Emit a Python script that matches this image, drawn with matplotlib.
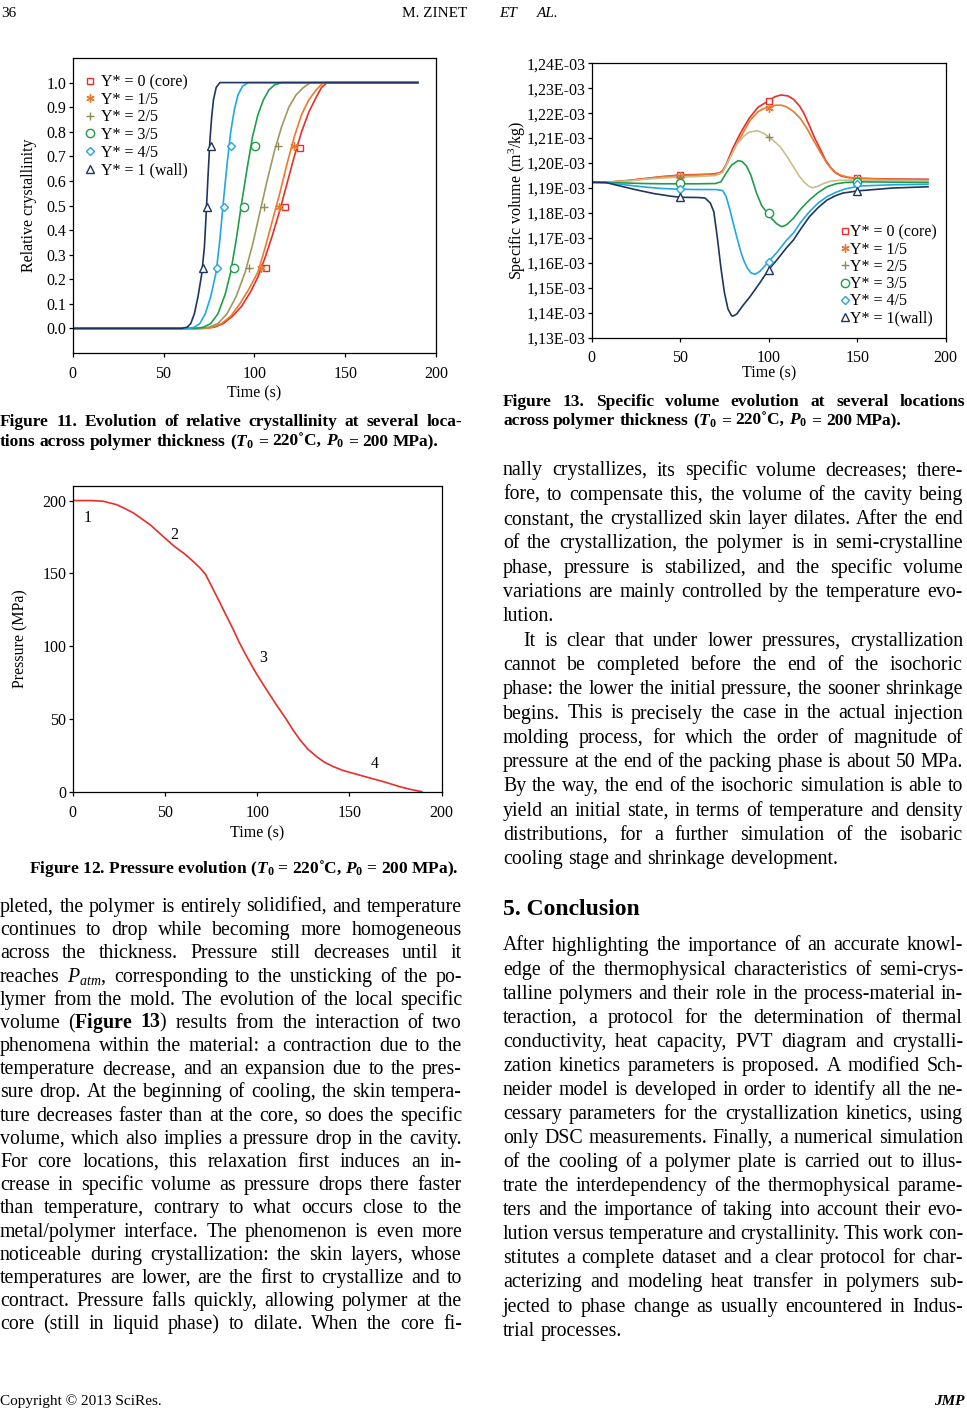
import numpy as np
import matplotlib
matplotlib.use('Agg')
import matplotlib.pyplot as plt

W, H = 967, 1414
SERIF = ['Liberation Serif', 'DejaVu Serif']
plt.rcParams['font.family'] = SERIF
plt.rcParams['mathtext.fontset'] = 'custom'
plt.rcParams['mathtext.rm'] = 'Liberation Serif'
plt.rcParams['mathtext.it'] = 'Liberation Serif:italic'
plt.rcParams['mathtext.bf'] = 'Liberation Serif:bold'
plt.rcParams['mathtext.bfit'] = 'Liberation Serif:bold:italic'

# ---------------- data: Figure 11, relative crystallinity (time s, X) ----------------
cr_core = [(0, 0), (72, 0), (78, 0.005), (83, 0.02), (88, 0.05), (93, 0.09), (98, 0.15), (102, 0.21),
           (106, 0.29), (110, 0.38), (114, 0.48), (118, 0.59), (122, 0.70), (126, 0.80), (130, 0.88),
           (134, 0.94), (137, 0.98), (140, 1.0), (190, 1.0)]
cr_15 = [(0, 0), (72, 0), (77, 0.005), (82, 0.02), (87, 0.05), (92, 0.10), (97, 0.16), (102, 0.23),
         (106, 0.33), (110, 0.44), (114, 0.55), (118, 0.67), (122, 0.78), (126, 0.87), (130, 0.93),
         (134, 0.97), (138, 1.0), (190, 1.0)]
cr_25 = [(0, 0), (70, 0), (75, 0.005), (80, 0.02), (85, 0.06), (90, 0.13), (95, 0.23), (99, 0.34),
         (103, 0.47), (107, 0.60), (111, 0.72), (115, 0.82), (119, 0.90), (123, 0.95), (127, 0.98),
         (131, 1.0), (190, 1.0)]
cr_35 = [(0, 0), (68, 0), (72, 0.005), (76, 0.02), (80, 0.06), (84, 0.14), (87, 0.23), (90, 0.36),
         (93, 0.51), (96, 0.65), (99, 0.78), (102, 0.87), (105, 0.93), (108, 0.97), (111, 0.99),
         (115, 1.0), (190, 1.0)]
cr_45 = [(0, 0), (64, 0), (67, 0.005), (70, 0.02), (73, 0.06), (76, 0.13), (79, 0.23), (81, 0.36),
         (83, 0.52), (85, 0.67), (87, 0.80), (89, 0.89), (91, 0.95), (93.5, 0.985), (96.5, 1.0), (190, 1.0)]
cr_wall = [(0, 0), (60, 0), (63, 0.005), (65, 0.02), (67, 0.06), (69, 0.13), (71, 0.22), (72.5, 0.33),
           (73.5, 0.47), (74.5, 0.62), (75.5, 0.76), (76.5, 0.86), (77.5, 0.93), (79, 0.98), (81, 1.0),
           (190, 1.0)]
cr_series = [cr_core, cr_15, cr_25, cr_35, cr_45, cr_wall]

# marker symbols placed along the curves
cr_mark_t = [[106.2, 116.8, 125.3], [103.8, 113.3, 122.1], [97.1, 105.4, 112.9],
             [88.9, 94.4, 100.1], [79.7, 83.5, 87.0], [71.6, 73.8, 76.0]]
cr_mark_y = [[0.244, 0.495, 0.733], [0.244, 0.495, 0.743], [0.244, 0.495, 0.743],
             [0.244, 0.495, 0.743], [0.244, 0.495, 0.743], [0.244, 0.495, 0.743]]
cr_labels = ['Y* = 0 (core)', 'Y* = 1/5', 'Y* = 2/5', 'Y* = 3/5', 'Y* = 4/5', 'Y* = 1 (wall)']

# ---------------- data: Figure 12, pressure (time s, MPa) ----------------
pr_t = [0, 10, 16.6, 23.8, 28, 32.9, 37, 41.9, 46, 50.9, 55, 60, 64.5, 69, 72, 74.4, 77, 79.9, 83.5,
        87.1, 90.5, 94.3, 99.5, 105.1, 110.5, 116, 119.5, 123.2, 127.5, 132.2, 136.5, 141.3, 146.5,
        152.1, 160, 168.4, 177.4, 183, 189.2]
pr_p = [200, 200, 199.5, 197.2, 194.7, 191.5, 187.8, 183.5, 178.8, 173.2, 168.6, 164, 159.1, 153.7,
        149.3, 143.3, 136.8, 129.6, 120.3, 111.2, 102.0, 92.9, 81.2, 70, 59.5, 49.3, 42.2, 35.6, 29.2,
        24.1, 20.2, 17.2, 14.6, 12.6, 9.8, 6.9, 3.4, 1.6, 0]
pr_notes = ['1', '2', '3', '4']
pr_note_t = [8.1, 55, 103.3, 163.5]
pr_note_p = [188, 176.6, 91.7, 19]

# ---------------- data: Figure 13, specific volume (time s, 1e-3 m3/kg) ----------------
sv_core = [(0, 1.1923), (10, 1.1924), (20, 1.1930), (30, 1.1938), (40, 1.1946), (50, 1.1952), (60, 1.1954),
           (68, 1.1956), (72, 1.1960), (74, 1.1970), (76, 1.1995), (78, 1.2030), (80, 1.2063), (84, 1.2120),
           (89, 1.2180), (94, 1.2224), (100, 1.2250), (103.5, 1.2266), (107, 1.2273), (111, 1.2269),
           (114, 1.2256), (117.5, 1.2228), (120, 1.2198), (123, 1.2150), (126, 1.2100), (129, 1.2058),
           (132, 1.2013), (135, 1.1982), (138, 1.1960), (141, 1.1948), (145, 1.1942), (150, 1.1939),
           (170, 1.1936), (190, 1.1935)]
sv_15 = [(0, 1.1923), (10, 1.1924), (20, 1.1929), (30, 1.1937), (40, 1.1945), (50, 1.1950), (60, 1.1952),
         (70, 1.1955), (74, 1.1966), (77, 1.2005), (80, 1.2050), (85, 1.2115), (89.5, 1.2172), (94, 1.2206),
         (97, 1.2218), (100, 1.2224), (104, 1.2232), (107, 1.2232), (110, 1.2226), (114, 1.2207),
         (118, 1.2178), (121.5, 1.2140), (125, 1.2095), (129, 1.2045), (133, 1.1998), (137, 1.1965),
         (140.5, 1.1952), (145, 1.1943), (151, 1.1939), (170, 1.1934), (190, 1.1932)]
sv_25 = [(0, 1.1923), (10, 1.1924), (20, 1.1928), (30, 1.1935), (40, 1.1940), (50, 1.1944), (60, 1.1946),
         (70, 1.1950), (74, 1.1962), (78, 1.2020), (82, 1.2075), (86, 1.2108), (89, 1.2124), (93.5, 1.2130),
         (97, 1.2120), (100, 1.2105), (103, 1.2088), (106.5, 1.2066), (110, 1.2030), (114, 1.1985),
         (117, 1.1950), (120, 1.1924), (122.5, 1.1908), (124.5, 1.1901), (127, 1.1905), (131, 1.1918),
         (135, 1.1927), (140, 1.1931), (151, 1.1932), (190, 1.1928)]
sv_35 = [(0, 1.1923), (10, 1.1922), (20, 1.1920), (30, 1.1918), (40, 1.1917), (50, 1.1917), (60, 1.1917),
         (70, 1.1918), (73, 1.1925), (76, 1.1960), (79, 1.1992), (82.8, 1.2010), (85, 1.2006), (87.5, 1.1988),
         (90, 1.1950), (93, 1.1882), (96, 1.1830), (99.5, 1.1797), (102, 1.1775), (104.5, 1.1757),
         (107.3, 1.1745), (110, 1.1752), (114, 1.1779), (118, 1.1815), (123, 1.1852), (128, 1.1882),
         (133, 1.1905), (138, 1.1917), (143, 1.1922), (151, 1.1925), (190, 1.1922)]
sv_45 = [(0, 1.1923), (10, 1.1920), (20, 1.1912), (30, 1.1904), (40, 1.1898), (50, 1.1895), (60, 1.1894),
         (70, 1.1894), (74, 1.1890), (76, 1.1865), (78, 1.1815), (80, 1.1758), (82, 1.1703), (84, 1.1650),
         (86, 1.1608), (88, 1.1578), (90, 1.1560), (92.3, 1.1554), (95, 1.1566), (100, 1.1605), (105, 1.1645),
         (110, 1.1690), (114, 1.1720), (118, 1.1762), (123, 1.1805), (128, 1.1840), (133, 1.1866),
         (138, 1.1883), (143, 1.1896), (151, 1.1908), (170, 1.1913), (190, 1.1915)]
sv_wall = [(0, 1.1923), (8, 1.1922), (15, 1.1910), (25, 1.1893), (35, 1.1878), (45, 1.1867), (50, 1.1863),
           (60, 1.1862), (64, 1.1860), (67, 1.1840), (69, 1.1805), (71, 1.1700), (73, 1.1580), (75, 1.1480),
           (77, 1.1415), (79, 1.1388), (80, 1.1387), (82, 1.1395), (85, 1.1425), (89.4, 1.1464), (95, 1.1520),
           (100, 1.1573), (105, 1.1615), (110, 1.1660), (114, 1.1692), (118.5, 1.1740), (123, 1.1785),
           (128, 1.1822), (133, 1.1852), (138, 1.1870), (142, 1.1880), (151, 1.1889), (170, 1.1900),
           (190, 1.1905)]
sv_series = [sv_core, sv_15, sv_25, sv_35, sv_45, sv_wall]
sv_mark_t = [50, 100, 150]
sv_mark_v = [[1.1952, 1.2250, 1.1939], [1.1950, 1.2222, 1.1938], [1.1945, 1.2106, 1.1933],
             [1.1920, 1.1798, 1.1925], [1.1895, 1.1605, 1.1915], [1.1863, 1.1573, 1.1890]]
sv_labels = ['Y* = 0 (core)', 'Y* = 1/5', 'Y* = 2/5', 'Y* = 3/5', 'Y* = 4/5', 'Y* = 1(wall)']
sv_ticks = [1.13, 1.14, 1.15, 1.16, 1.17, 1.18, 1.19, 1.20, 1.21, 1.22, 1.23, 1.24]

# styles
line_cols = ['#e62e2a', '#eb7a2e', '#9c9a5e', '#1f9e4a', '#22a8e0', '#1f365f']
line_cols13 = ['#e62e2a', '#eb7a2e', '#c6c08e', '#1f9e4a', '#22a8e0', '#1f365f']
mark_cols = ['#e62e2a', '#eb7a2e', '#8e8c52', '#1f9e4a', '#22a8e0', '#1f365f']
marks = ['s', (6, 2, 0), '+', 'o', 'D', '^']
msizes = [5, 6, 6, 6, 4, 5.5]

# ---------------- text ----------------
left_lines = [
    "pleted, the polymer is entirely solidified, and temperature",
    "continues to drop while becoming more homogeneous",
    "across the thickness. Pressure still decreases until it",
    "reaches $P_{atm}$, corresponding to the unsticking of the po-",
    "lymer from the mold. The evolution of the local specific",
    r"volume ($\mathbf{Figure}$ $\mathbf{13}$) results from the interaction of two",
    "phenomena within the material: a contraction due to the",
    "temperature decrease, and an expansion due to the pres-",
    "sure drop. At the beginning of cooling, the skin tempera-",
    "ture decreases faster than at the core, so does the specific",
    "volume, which also implies a pressure drop in the cavity.",
    "For core locations, this relaxation first induces an in-",
    "crease in specific volume as pressure drops there faster",
    "than temperature, contrary to what occurs close to the",
    "metal/polymer interface. The phenomenon is even more",
    "noticeable during crystallization: the skin layers, whose",
    "temperatures are lower, are the first to crystallize and to",
    "contract. Pressure falls quickly, allowing polymer at the",
    "core (still in liquid phase) to dilate. When the core fi-",
]
right_par1 = [
    "nally crystallizes, its specific volume decreases; there-",
    "fore, to compensate this, the volume of the cavity being",
    "constant, the crystallized skin layer dilates. After the end",
    "of the crystallization, the polymer is in semi-crystalline",
    "phase, pressure is stabilized, and the specific volume",
    "variations are mainly controlled by the temperature evo-",
    "lution.",
]
right_par2 = [
    "It is clear that under lower pressures, crystallization",
    "cannot be completed before the end of the isochoric",
    "phase: the lower the initial pressure, the sooner shrinkage",
    "begins. This is precisely the case in the actual injection",
    "molding process, for which the order of magnitude of",
    "pressure at the end of the packing phase is about 50 MPa.",
    "By the way, the end of the isochoric simulation is able to",
    "yield an initial state, in terms of temperature and density",
    "distributions, for a further simulation of the isobaric",
    "cooling stage and shrinkage development.",
]
concl_lines = [
    "After highlighting the importance of an accurate knowl-",
    "edge of the thermophysical characteristics of semi-crys-",
    "talline polymers and their role in the process-material in-",
    "teraction, a protocol for the determination of thermal",
    "conductivity, heat capacity, PVT diagram and crystalli-",
    "zation kinetics parameters is proposed. A modified Sch-",
    "neider model is developed in order to identify all the ne-",
    "cessary parameters for the crystallization kinetics, using",
    "only DSC measurements. Finally, a numerical simulation",
    "of the cooling of a polymer plate is carried out to illus-",
    "trate the interdependency of the thermophysical parame-",
    "ters and the importance of taking into account their evo-",
    "lution versus temperature and crystallinity. This work con-",
    "stitutes a complete dataset and a clear protocol for char-",
    "acterizing and modeling heat transfer in polymers sub-",
    "jected to phase change as usually encountered in Indus-",
    "trial processes.",
]
cond = r"($\mathbfit{T}_{\mathbf{0}}$ = 220˚C, $\mathbfit{P}_{\mathbf{0}}$ = 200 MPa)."
cap11 = ["Figure 11. Evolution of relative crystallinity at several loca-",
         "tions across polymer thickness " + cond]
cap12 = "Figure 12. Pressure evolution " + cond
cap13 = ["Figure 13. Specific volume evolution at several locations",
         "across polymer thickness " + cond]

fig = plt.figure(figsize=(W / 100, H / 100), dpi=100)
renderer = fig.canvas.get_renderer()
FS = 11.5


def rect(l, r, t, b):
    return [l / W, 1 - b / H, (r - l) / W, (b - t) / H]


def put_line(s, x0, x1, yb, size, justify=True, weight='normal'):
    words = s.split(' ')
    objs = [fig.text(0, 0, w, fontsize=size, fontweight=weight, va='baseline', ha='left')
            for w in words]
    ws = [o.get_window_extent(renderer).width for o in objs]
    gap = size * 100 / 72 * 0.25
    if justify and len(words) > 1:
        gap = (x1 - x0 - sum(ws)) / (len(words) - 1)
    x = x0
    for o, w in zip(objs, ws):
        o.set_position((x / W, 1 - yb / H))
        x += w + gap
    return x - gap


def style_axes(ax):
    for sp in ax.spines.values():
        sp.set_linewidth(0.9)
    ax.tick_params(direction='out', length=3, width=0.9, labelsize=FS)
    ax.tick_params(axis='x', pad=6.5)
    ax.tick_params(axis='y', pad=1.5)


# ---- Figure 11 ----
ax1 = fig.add_axes(rect(72.7, 436, 58, 353))
for pts, col in zip(cr_series, line_cols):
    t, x = np.array(pts).T
    ax1.plot(t, x, color=col, lw=1.2)
for i in range(6):
    ax1.plot(cr_mark_t[i], cr_mark_y[i], ls='none', marker=marks[i], ms=msizes[i],
             mfc='white', mec=mark_cols[i], mew=1.0, label=cr_labels[i])
ax1.set_xlim(0, 200)
ax1.set_ylim(-0.1, 1.1)
ax1.set_xticks([0, 50, 100, 150, 200])
ax1.set_yticks(np.arange(0, 1.01, 0.1))
ax1.yaxis.set_major_formatter(matplotlib.ticker.FormatStrFormatter('%.1f'))
style_axes(ax1)
ax1.set_xlabel('Time (s)', fontsize=FS, labelpad=2.5)
ax1.set_ylabel('Relative crystallinity', fontsize=FS, labelpad=7)
ax1.legend(loc='upper left', bbox_to_anchor=(0.03, 0.945), frameon=False, fontsize=FS,
           handlelength=0.8, handletextpad=0.3, labelspacing=0.1, borderpad=0, borderaxespad=0)

# ---- Figure 12 ----
ax2 = fig.add_axes(rect(72.7, 441.7, 486, 791.7))
ax2.plot(pr_t, pr_p, color='#e62e2a', lw=1.2)
for s, t, p in zip(pr_notes, pr_note_t, pr_note_p):
    ax2.text(t, p, s, fontsize=FS, ha='center', va='center')
ax2.set_xlim(0, 200)
ax2.set_ylim(0, 210)
ax2.set_xticks([0, 50, 100, 150, 200])
ax2.set_yticks([0, 50, 100, 150, 200])
style_axes(ax2)
ax2.set_xlabel('Time (s)', fontsize=FS, labelpad=3)
ax2.set_ylabel('Pressure (MPa)', fontsize=FS, labelpad=10)

# ---- Figure 13 ----
ax3 = fig.add_axes(rect(591.7, 945.7, 63.3, 337.7))
for pts, col in zip(sv_series, line_cols13):
    t, v = np.array(pts).T
    ax3.plot(t, v * 1e-3, color=col, lw=1.2)
for i in range(6):
    ax3.plot(sv_mark_t, np.array(sv_mark_v[i]) * 1e-3, ls='none', marker=marks[i], ms=msizes[i],
             mfc='white', mec=mark_cols[i], mew=1.0, label=sv_labels[i])
ax3.set_xlim(0, 200)
ax3.set_ylim(1.13e-3, 1.24e-3)
ax3.set_xticks([0, 50, 100, 150, 200])
ax3.set_yticks([v * 1e-3 for v in sv_ticks])
ax3.set_yticklabels([('%.2f' % v).replace('.', ',') + 'E-03' for v in sv_ticks])
style_axes(ax3)
ax3.tick_params(axis='x', pad=5.5)
ax3.set_xlabel('Time (s)', fontsize=FS, labelpad=0)
ax3.set_ylabel('Specific volume (m$^3$/kg)', fontsize=FS, labelpad=-1)
ax3.legend(loc='lower right', bbox_to_anchor=(0.975, 0.04), frameon=False, fontsize=FS,
           handlelength=0.5, handletextpad=0.1, labelspacing=0.08, borderpad=0, borderaxespad=0)

# ---- page text ----
fig.text(1 / W, 1 - 17 / H, '36', fontsize=11, va='baseline', ha='left')
fig.text(402 / W, 1 - 17 / H, 'M. ZINET', fontsize=11, va='baseline', ha='left')
fig.text(499 / W, 1 - 17 / H, 'ET', fontsize=11, style='italic', va='baseline', ha='left')
fig.text(537 / W, 1 - 17 / H, 'AL.', fontsize=11, style='italic', va='baseline', ha='left')
fig.text(0, 1 - 1405 / H, 'Copyright © 2013 SciRes.', fontsize=11, va='baseline', ha='left')
fig.text(965 / W, 1 - 1405 / H, 'JMP', fontsize=11, style='italic', fontweight='bold',
         va='baseline', ha='right')

CAP = 12.5
put_line(cap11[0], 0, 462, 426, CAP, True, 'bold')
put_line(cap11[1], 0, 462, 446, CAP, False, 'bold')
put_line(cap13[0], 503, 965, 406, CAP, True, 'bold')
put_line(cap13[1], 503, 965, 425, CAP, False, 'bold')
fig.text(244 / W, 1 - 873 / H, cap12, fontsize=CAP, fontweight='bold', va='baseline', ha='center')

BODY = 14.3
for k, s in enumerate(left_lines):
    put_line(s, 0, 462, 912 + k * 23.18, BODY, True)
for k, s in enumerate(right_par1):
    put_line(s, 503, 963, 475.5 + k * 24.3, BODY, k < len(right_par1) - 1)
for k, s in enumerate(right_par2):
    x0 = 523 if k == 0 else 503
    put_line(s, x0, 963, 475.5 + (k + 7) * 24.3, BODY, k < len(right_par2) - 1)
fig.text(503 / W, 1 - 915 / H, '5. Conclusion', fontsize=17, fontweight='bold', va='baseline', ha='left')
for k, s in enumerate(concl_lines):
    put_line(s, 503, 963, 950.5 + k * 24.07, BODY, k < len(concl_lines) - 1)

fig.savefig('out.png', dpi=100)
